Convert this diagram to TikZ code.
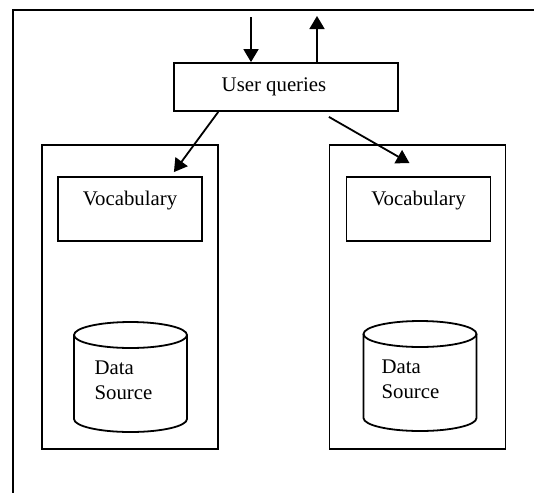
\documentclass[tikz,border=0pt]{standalone}
\usepackage{fontspec}
\setmainfont{Liberation Serif}
\usetikzlibrary{arrows.meta,calc}

\begin{document}
\begin{tikzpicture}[x=0.5pt,y=-0.5pt,line width=0.9pt,
  font=\fontsize{10.4}{12.5}\selectfont,
  arr/.style={-{Triangle[length=6.5pt,width=7.5pt]}},
  qbox/.style={draw,minimum width=112pt,minimum height=24pt,inner sep=0pt},
  vbox/.style={draw,minimum width=72pt,minimum height=32pt,inner sep=0pt},
  sbox/.style={draw,minimum width=88pt,minimum height=152pt,inner sep=0pt}]
\useasboundingbox (0,0) rectangle (534,493);
\draw (534,10) -- (13,10) -- (13,493); %%Frame

\node[qbox,label={[xshift=-6pt]center:User queries}] (uq) at (286,87) {};
\coordinate (in) at (251,17);
\coordinate (out) at (317,16);
\draw[arr] (in) -- (in |- uq.north);
\draw[arr] (out |- uq.north) -- (out);

%%Left source
\node[sbox] (sl) at (130,297) {};
\node[vbox,label={[yshift=4pt]center:Vocabulary}] (vl) at (130,209) {};
\draw (74,335) -- (74,419) arc[start angle=180,end angle=360,x radius=28.25pt,y radius=6.5pt] -- (187,335);
\draw (130.5,335) ellipse[x radius=28.25pt,y radius=6.5pt];
\node[anchor=west,align=left] (dl) at (87,380) {Data\\Source};

%%Right source
\node[sbox] (sr) at (417.5,297) {};
\node[vbox,label={[yshift=4pt]center:Vocabulary}] (vr) at (418.5,209) {};
\draw (363.5,334) -- (363.5,418) arc[start angle=180,end angle=360,x radius=28.25pt,y radius=6.5pt] -- (476.5,334);
\draw (420,334) ellipse[x radius=28.25pt,y radius=6.5pt];
\node[anchor=west,align=left] (dr) at (374,379) {Data\\Source};

\draw[arr] ($(uq.south west)!0.2!(uq.south east)$) -- ($(vl.north east)+(-29,-4)$);
\draw[arr] ($(uq.south west)!0.69!(uq.south east)+(0,5)$) -- ($(vr.north)+(-9,-13)$);
\end{tikzpicture}
\end{document}
